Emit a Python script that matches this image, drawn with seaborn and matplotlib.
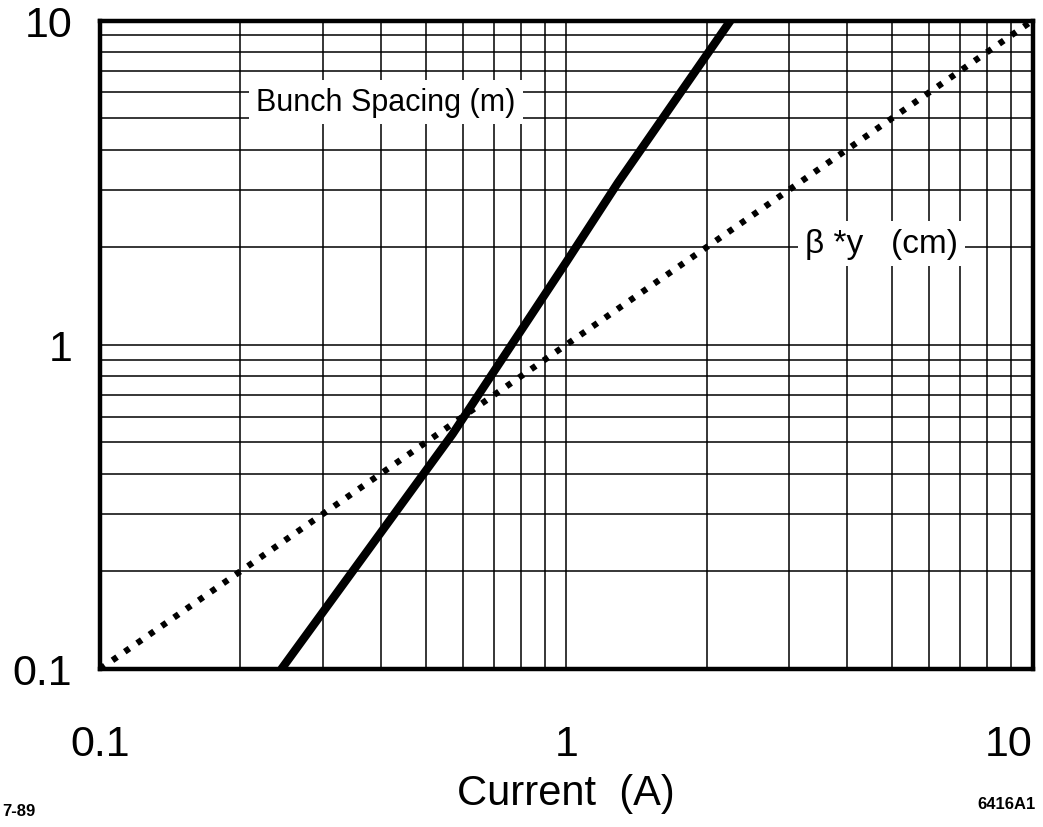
import numpy as np
import pandas as pd
import matplotlib
matplotlib.use("Agg")
import matplotlib.pyplot as plt
import seaborn as sns

# ── Data ──
current_bs = [0.245, 0.57, 1.0, 1.29, 2.25]
bunch_spacing = [0.1, 0.53, 1.8, 3.16, 10.0]

current_beta = [0.1, 1.0, 10.0]
beta_y = [0.1, 1.0, 10.0]

tick_vals = [0.1, 1, 10]
tick_labels = ["0.1", "1", "10"]

bs_df = pd.DataFrame({"current": current_bs, "value": bunch_spacing})
beta_df = pd.DataFrame({"current": current_beta, "value": beta_y})

sns.set_style("white")
plt.rcParams['font.family'] = ['Liberation Sans', 'DejaVu Sans']
plt.rcParams['text.color'] = 'black'
plt.rcParams['xtick.color'] = 'black'
plt.rcParams['ytick.color'] = 'black'
plt.rcParams['axes.labelcolor'] = 'black'

fig = plt.figure(figsize=(10.43, 8.28), dpi=100)
ax = fig.add_axes([0.096, 0.191, 0.894, 0.783])

sns.lineplot(data=bs_df, x="current", y="value", ax=ax, color="black",
             linewidth=6, solid_capstyle="round", zorder=3)
sns.lineplot(data=beta_df, x="current", y="value", ax=ax, color="black",
             linewidth=4.5, linestyle=(0, (0.9, 1.5)), dash_capstyle="butt",
             zorder=3)

ax.set_xscale("log")
ax.set_yscale("log")
ax.set_xlim(0.1, 10)
ax.set_ylim(0.1, 10)

# ── Grid on every decade subdivision ──
ax.set_axisbelow(True)
ax.grid(which="both", color="black", linewidth=1.1, linestyle="-")
ax.tick_params(which="both", length=0)
ax.set_xticks(tick_vals)
ax.set_xticklabels(tick_labels, fontsize=31)
ax.set_yticks(tick_vals)
ax.set_yticklabels(tick_labels, fontsize=31)
ax.tick_params(axis="x", pad=40)
ax.tick_params(axis="y", pad=20)
ax.get_xticklabels()[-1].set_horizontalalignment("right")

for s in ax.spines.values():
    s.set_visible(True)
    s.set_color("black")
    s.set_linewidth(3.2)

ax.set_xlabel("Current  (A)", fontsize=30, labelpad=6)
ax.set_ylabel("")

# ── Curve labels ──
box = dict(facecolor="white", edgecolor="none", pad=5)
ax.text(0.41, 5.6, "Bunch Spacing (m)", fontsize=22, ha="center", va="center",
        bbox=box, zorder=5)
ax.text(4.75, 2.05, "β *y   (cm)", fontsize=24, ha="center", va="center",
        bbox=box, zorder=5)

# ── Figure ids ──
fig.text(0.002, 0.020, "7-89", fontsize=12, fontweight="bold", ha="left", va="center")
fig.text(0.993, 0.028, "6416A1", fontsize=12, fontweight="bold", ha="right", va="center")

fig.savefig("out.png", dpi=100)
